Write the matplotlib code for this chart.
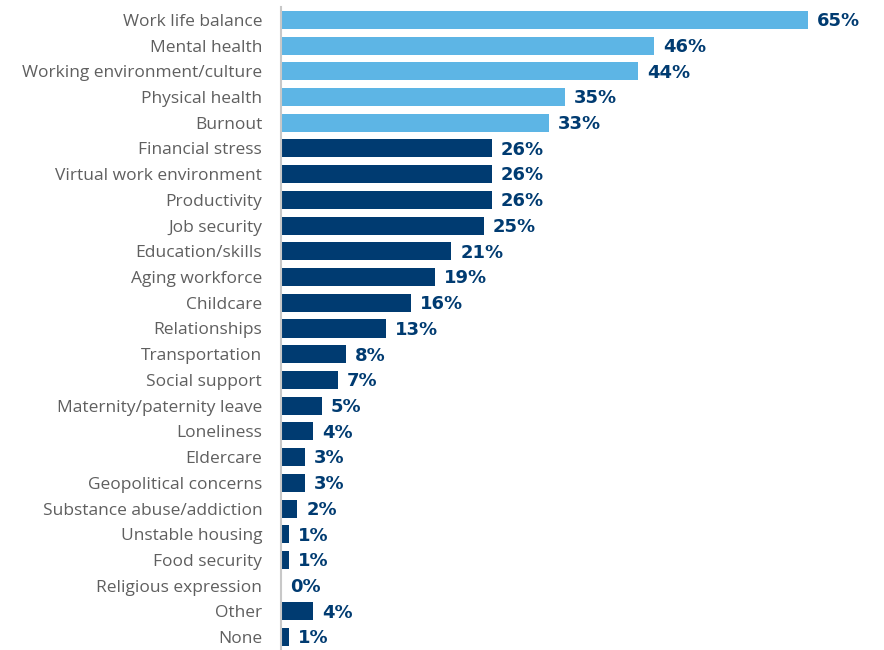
import matplotlib.pyplot as plt

categories = [
    "Work life balance", "Mental health", "Working environment/culture",
    "Physical health", "Burnout", "Financial stress", "Virtual work environment",
    "Productivity", "Job security", "Education/skills", "Aging workforce",
    "Childcare", "Relationships", "Transportation", "Social support",
    "Maternity/paternity leave", "Loneliness", "Eldercare",
    "Geopolitical concerns", "Substance abuse/addiction", "Unstable housing",
    "Food security", "Religious expression", "Other", "None",
]
values = [65, 46, 44, 35, 33, 26, 26, 26, 25, 21, 19, 16, 13, 8, 7, 5, 4, 3, 3, 2, 1, 1, 0, 4, 1]
n_highlight = 5  # top five drawn in light blue

LIGHT = "#5DB5E5"
DARK = "#003B71"

fig = plt.figure(figsize=(8.84, 6.5), dpi=100)
ax = fig.add_axes([281 / 884, 0.0, (860 - 281) / 884, 643 / 650])

colors = [LIGHT if i < n_highlight else DARK for i in range(len(values))]
pos = list(range(len(values)))
ax.barh(pos, values, height=0.7, color=colors)

for p, v in zip(pos, values):
    ax.text(v + 1.1, p + 0.05, f"{v}%", va="center", ha="left",
            fontsize=13, fontweight="bold", color=DARK, family="DejaVu Sans")

ax.set_xlim(0, (860 - 281) / 8.11)
ax.set_ylim(len(values) - 0.5, -0.5)
ax.set_yticks(pos)
ax.set_yticklabels(categories, fontsize=12.5, color="#5F5F5F", family="Open Sans")
ax.tick_params(axis="y", length=0, pad=13.5)
ax.set_xticks([])

for s in ["top", "right", "bottom"]:
    ax.spines[s].set_visible(False)
ax.spines["left"].set_color("#C8C8C8")
ax.spines["left"].set_linewidth(1.5)

fig.savefig("out.png", dpi=100)
